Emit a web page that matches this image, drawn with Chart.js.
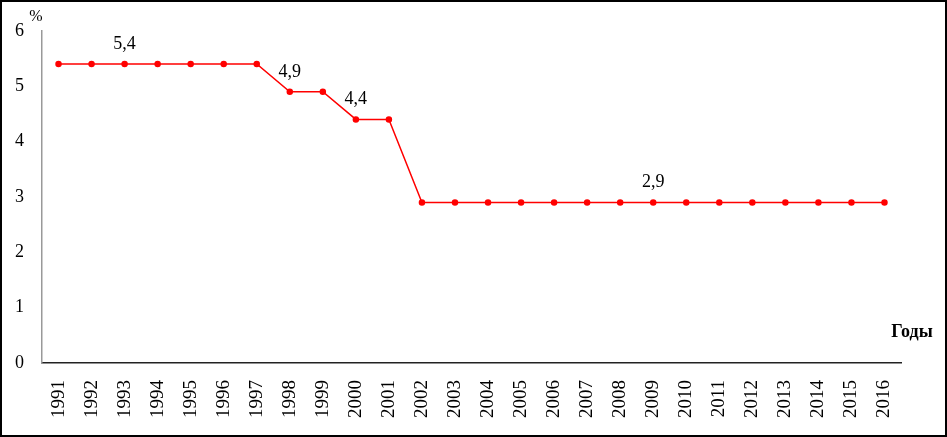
<!DOCTYPE html>
<html><head><meta charset="utf-8">
<script src="https://cdn.jsdelivr.net/npm/chart.js@4.4.0/dist/chart.umd.min.js"></script>
<style>
html,body{margin:0;padding:0;background:#fff;}
#wrap{position:relative;width:947px;height:437px;box-sizing:border-box;border:2px solid #000;}
canvas{display:block;}
</style></head>
<body>
<div id="wrap"><canvas id="c" width="943" height="433"></canvas></div>
<script>
const years = ["1991","1992","1993","1994","1995","1996","1997","1998","1999","2000","2001","2002","2003","2004","2005","2006","2007","2008","2009","2010","2011","2012","2013","2014","2015","2016"];
const rates = [5.4,5.4,5.4,5.4,5.4,5.4,5.4,4.9,4.9,4.4,4.4,2.9,2.9,2.9,2.9,2.9,2.9,2.9,2.9,2.9,2.9,2.9,2.9,2.9,2.9,2.9];
const labelIdx = [2,7,9,18];
const labelText = ["5,4","4,9","4,4","2,9"];
const yTicks = [0,1,2,3,4,5,6];
const yTitle = "%";
const xTitle = "Годы";
const serif = "'Liberation Serif','Times New Roman',serif";

const annot = {
  id:'annot',
  afterDatasetsDraw(chart){
    const ctx = chart.ctx, x = chart.scales.x, y = chart.scales.y, a = chart.chartArea;
    ctx.save();
    ctx.fillStyle = '#000';
    ctx.font = "18px " + serif;
    ctx.textAlign = 'center';
    ctx.textBaseline = 'alphabetic';
    labelIdx.forEach((i,k)=>{
      ctx.fillText(labelText[k], x.getPixelForValue(i), y.getPixelForValue(rates[i]) - 15);
    });
    ctx.font = "16px " + serif;
    ctx.textBaseline = 'middle';
    ctx.fillText(yTitle, a.left - 6, a.top - 14);
    ctx.font = "bold 18px " + serif;
    ctx.fillText(xTitle, a.right + 11, a.bottom - 31);
    ctx.restore();
  }
};

new Chart(document.getElementById('c'), {
  type:'line',
  data:{labels:years, datasets:[{data:rates, borderColor:'#ff0000', backgroundColor:'#ff0000', borderWidth:1.5, pointRadius:2.5, pointHoverRadius:2.5, tension:0}]},
  options:{
    responsive:false, animation:false,
    layout:{padding:{top:28, right:44, left:0, bottom:0}},
    plugins:{legend:{display:false}, tooltip:{enabled:false}},
    scales:{
      x:{
        offset:true,
        grid:{display:false, drawTicks:false},
        border:{display:true, color:'#222', width:1.5},
        ticks:{font:{family:serif, size:19}, color:'#000', minRotation:90, maxRotation:90, padding:17, autoSkip:false},
        afterFit(s){ s.height = 72; }
      },
      y:{
        min:0, max:6,
        grid:{display:false, drawTicks:false},
        border:{display:true, color:'#999', width:1.5},
        afterBuildTicks(s){ s.ticks = yTicks.map(v=>({value:v})); },
        ticks:{font:{family:serif, size:18}, color:'#000', padding:18},
        afterFit(s){ s.width = 40; }
      }
    }
  },
  plugins:[annot]
});
</script>
</body></html>
